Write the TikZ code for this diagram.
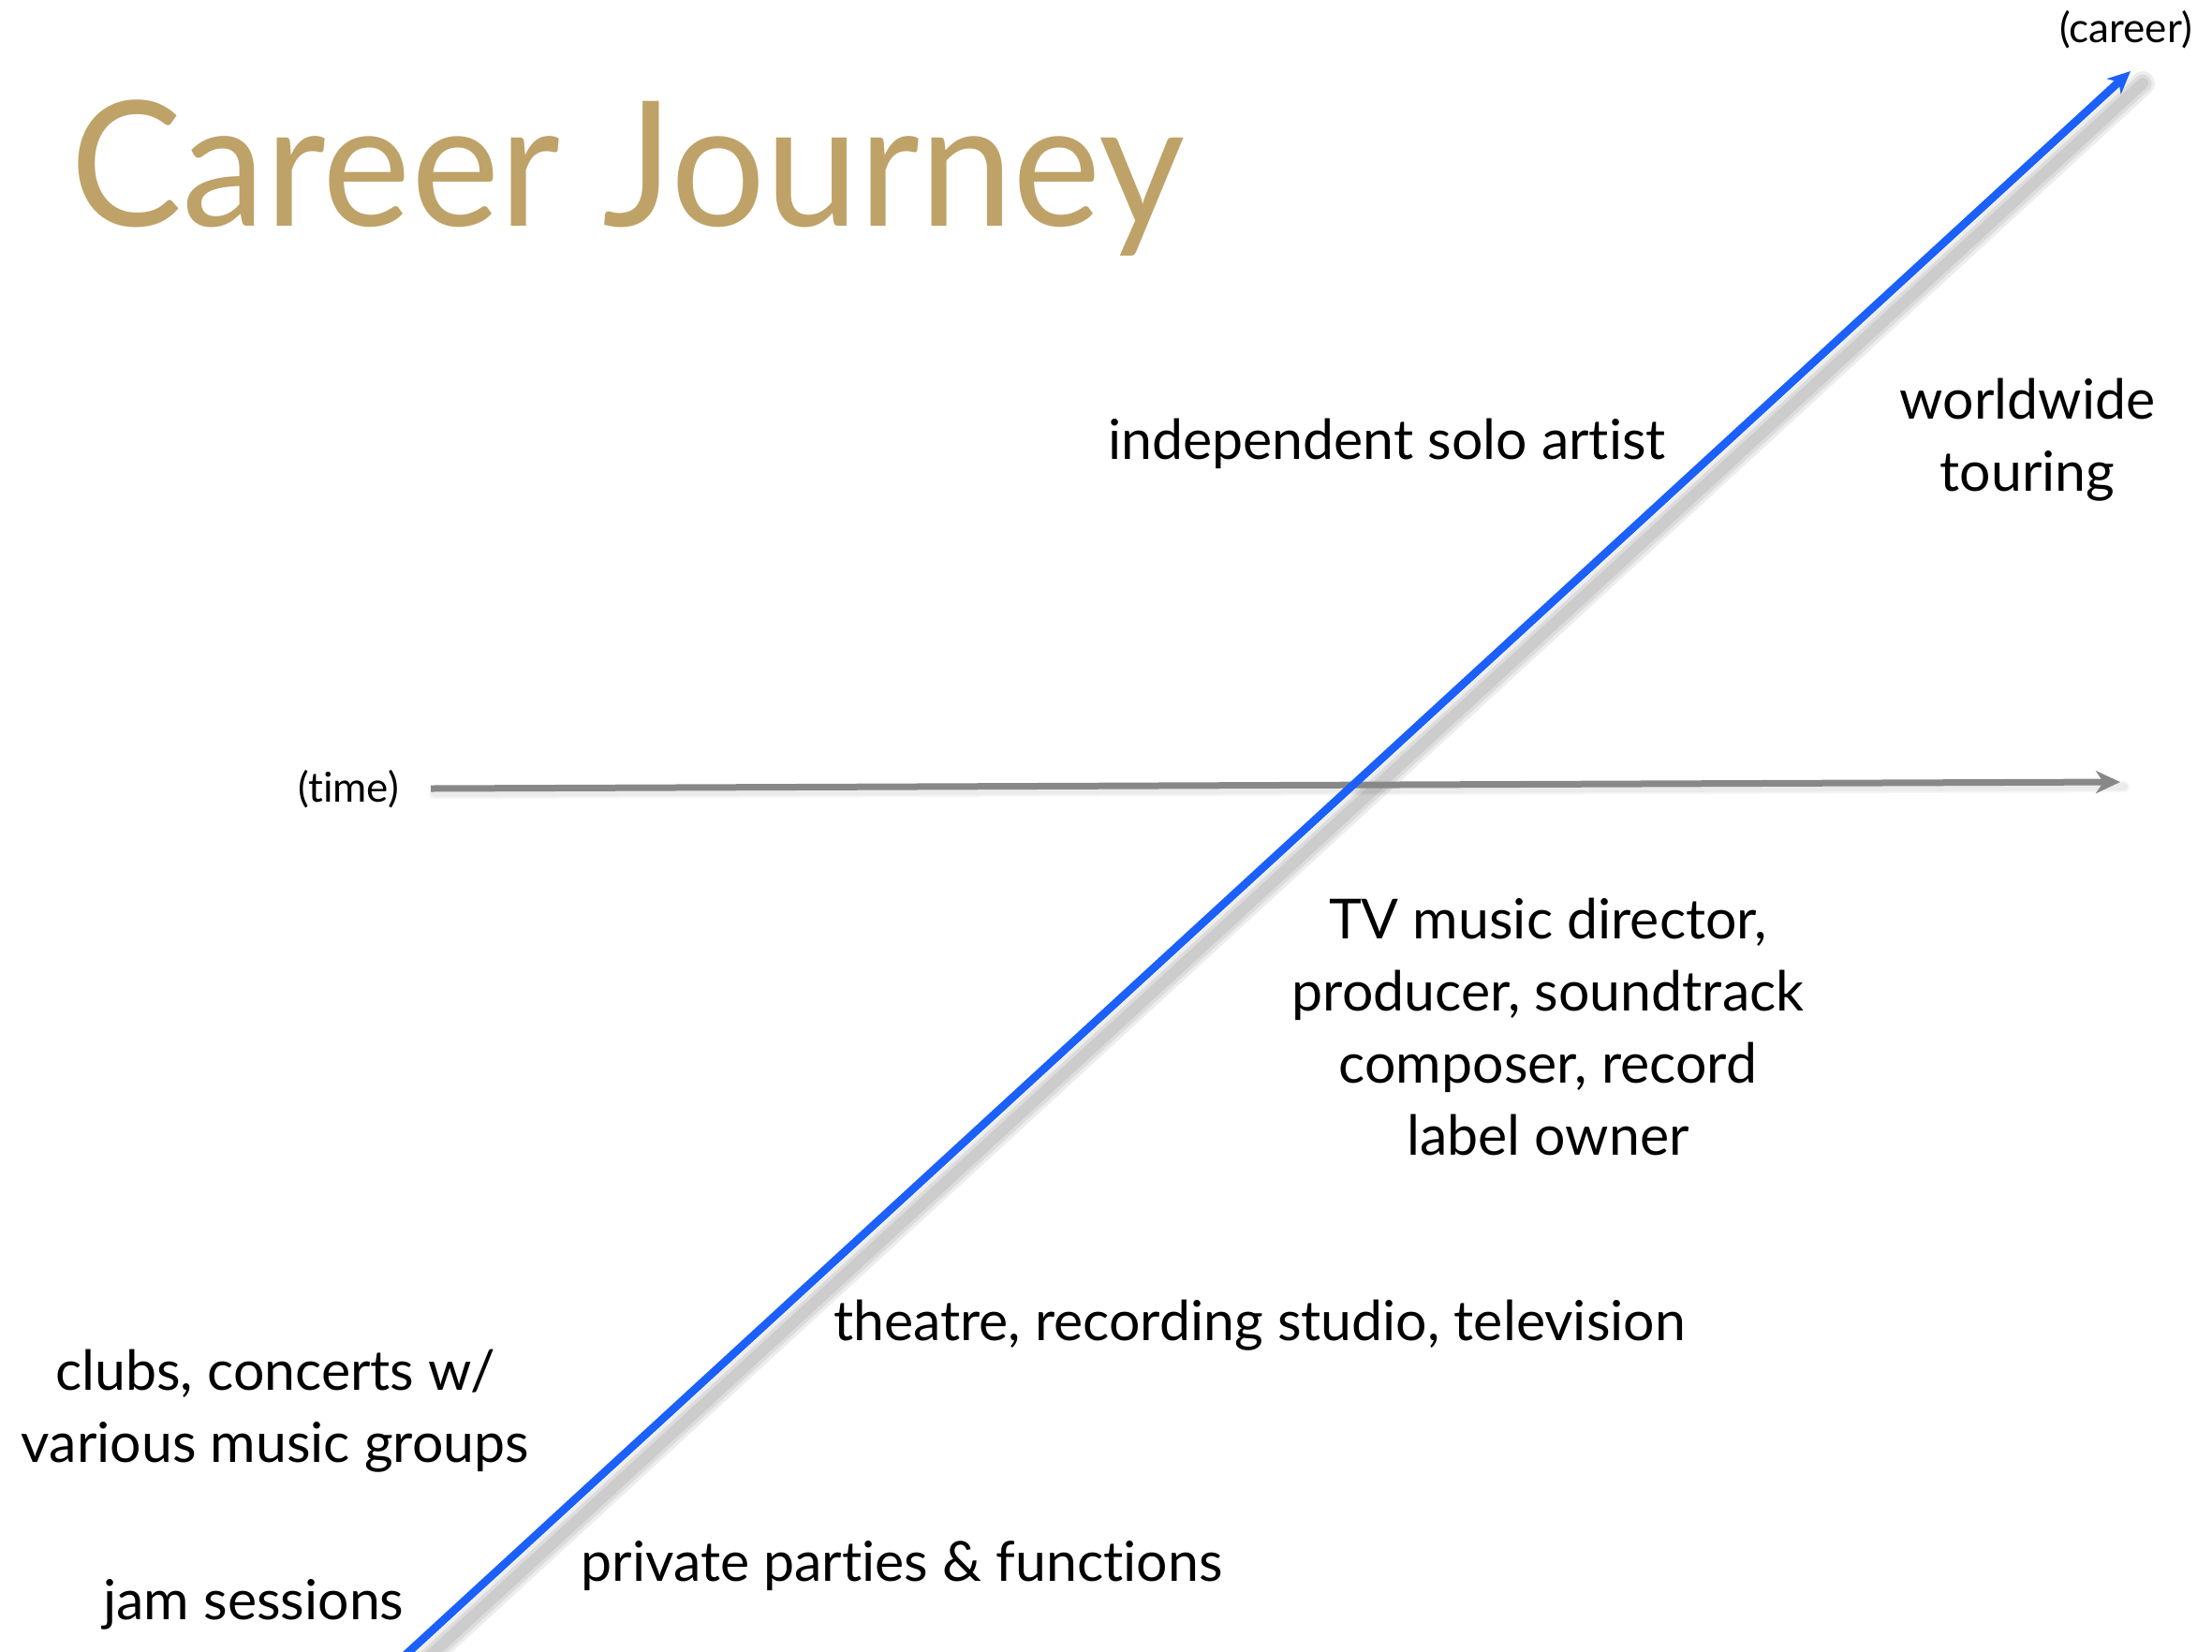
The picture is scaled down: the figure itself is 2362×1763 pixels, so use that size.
\documentclass[tikz,border=0pt]{standalone}
\usepackage{fontspec}
\setmainfont{Lato}[Ligatures=NoCommon]
\usetikzlibrary{arrows.meta}
\definecolor{gold}{RGB}{190,162,104}
\definecolor{careerblue}{RGB}{28,96,250}
\definecolor{axisgray}{RGB}{136,136,136}
\tikzset{
  lbl/.style={inner sep=0pt, align=center, font=\fontsize{29.5}{38.5}\selectfont},
  smalllbl/.style={inner sep=0pt, font=\fontsize{22}{26}\selectfont},
  shadowline/.style={line cap=round, draw=black, opacity=0.07},
}
\begin{document}
\begin{tikzpicture}[x=0.5pt,y=-0.5pt]
\useasboundingbox (0,0) rectangle (2362,1763);
\fill[white] (0,0) rectangle (2362,1763);

% title
\node[inner sep=0pt, anchor=base west, text=gold, xscale=0.96, transform shape, font=\fontsize{93}{100}\selectfont] (title) at (75,241) {Career Journey};

% coordinates
\coordinate (bstart) at (432,1768);
\coordinate (bend) at (2275,76);
\coordinate (tstart) at (460,842);
\coordinate (tend) at (2264,835);

% shadows
\foreach \w in {26,19,12} {
  \draw[shadowline, line width=\w*0.5pt] ([shift={(13,13)}]bstart) -- ([shift={(13,13)}]bend);
}
\foreach \w in {12,8} {
  \draw[shadowline, opacity=0.04, line width=\w*0.5pt] ([shift={(4,5)}]tstart) -- ([shift={(4,5)}]tend);
}

% time axis
\draw[axisgray, line width=3.5pt, -{Stealth[length=13pt,width=12pt,inset=4pt]}] (tstart) -- (tend);
% career line
\draw[careerblue, line width=4.3pt, -{Stealth[length=12pt,width=11pt,inset=3.5pt]}] (bstart) -- (bend);

% labels
\node[smalllbl] (career) at (2270,32) {(career)};
\node[smalllbl] (time) at (372,843) {(time)};
\node[lbl] (solo) at (1481,474) {independent solo artist};
\node[lbl] (touring) at (2165,470) {worldwide\\touring};
\node[lbl] (tv) at (1653,1096) {TV music director,\\producer, soundtrack\\composer, record\\label owner};
\node[lbl] (theatre) at (1345,1415) {theatre, recording studio, television};
\node[lbl] (clubs) at (294,1507) {clubs, concerts w/\\various music groups};
\node[lbl] (parties) at (963,1672) {private parties \& functions};
\node[lbl] (jam) at (271,1713) {jam sessions};
\end{tikzpicture}
\end{document}
